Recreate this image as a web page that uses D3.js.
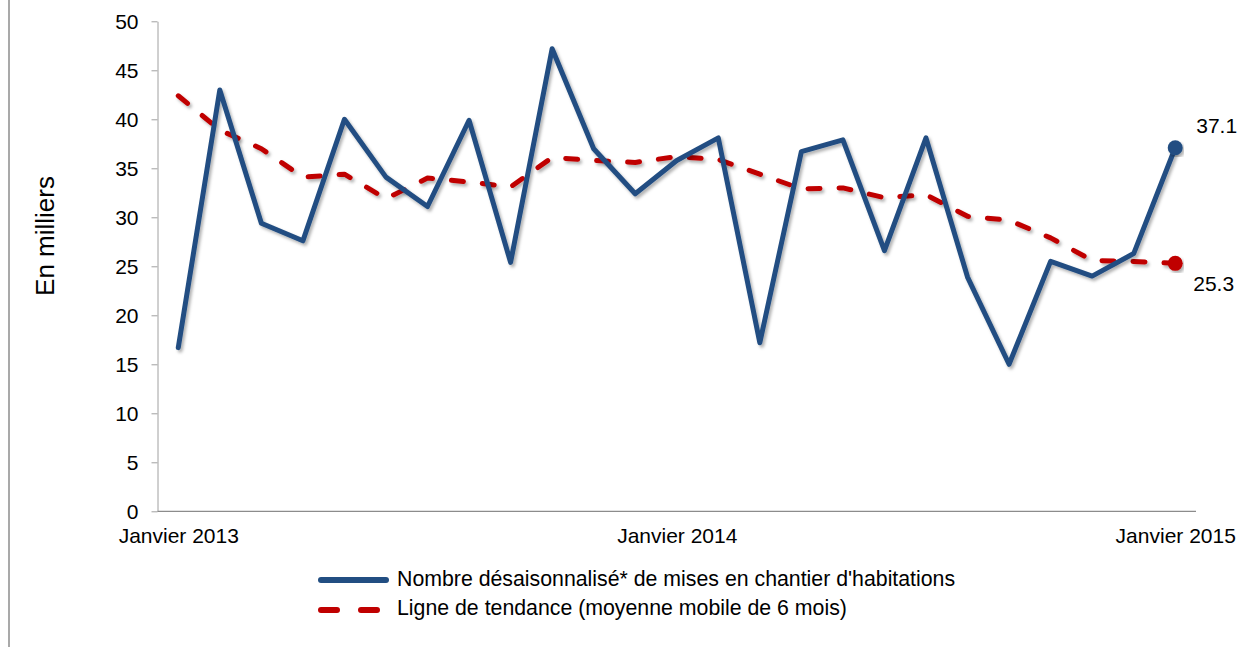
<!DOCTYPE html>
<html>
<head>
<meta charset="utf-8">
<script src="https://cdn.jsdelivr.net/npm/d3@7"></script>
<style>
  html, body { margin: 0; padding: 0; background: #fff; }
  svg { display: block; font-family: "Liberation Sans", Arial, sans-serif; }
</style>
</head>
<body>
<svg id="chart" width="1250" height="647"></svg>
<script>
// ---- Data ----
const months = [
  "Janvier 2013","Février 2013","Mars 2013","Avril 2013","Mai 2013","Juin 2013",
  "Juillet 2013","Août 2013","Septembre 2013","Octobre 2013","Novembre 2013","Décembre 2013",
  "Janvier 2014","Février 2014","Mars 2014","Avril 2014","Mai 2014","Juin 2014",
  "Juillet 2014","Août 2014","Septembre 2014","Octobre 2014","Novembre 2014","Décembre 2014",
  "Janvier 2015"
];
const starts = [
  16.7, 43.0, 29.4, 27.6, 40.0, 34.1, 31.1, 39.9, 25.4, 47.2, 37.0, 32.4,
  35.8, 38.1, 17.2, 36.7, 37.9, 26.6, 38.1, 23.9, 15.0, 25.5, 24.0, 26.3, 37.1
];
const trend = [
  42.4, 38.9, 37.0, 34.1, 34.4, 31.9, 34.0, 33.6, 33.1, 36.1, 35.8, 35.6,
  36.2, 35.9, 34.4, 32.9, 33.0, 32.0, 32.3, 30.1, 29.7, 27.9, 25.6, 25.5, 25.3
];
const yTicks = [0, 5, 10, 15, 20, 25, 30, 35, 40, 45, 50];
const xTickLabels = ["Janvier 2013", "Janvier 2014", "Janvier 2015"];
const seriesNames = [
  "Nombre désaisonnalisé* de mises en chantier d'habitations",
  "Ligne de tendance (moyenne mobile de 6 mois)"
];
const yTitle = "En milliers";

// ---- Layout ----
const svg = d3.select("#chart");
const plot = { left: 157.5, right: 1196, top: 21.3, bottom: 511.3 };
const BLUE = "#224E82", RED = "#C00000";

const defs = svg.append("defs");
const f = defs.append("filter").attr("id", "shadow")
  .attr("x", "-5%").attr("y", "-5%").attr("width", "110%").attr("height", "115%");
f.append("feDropShadow").attr("dx", 2).attr("dy", 2.5).attr("stdDeviation", 1.5)
  .attr("flood-color", "#000").attr("flood-opacity", 0.3);

// frame line on the left
svg.append("line").attr("x1", 9).attr("x2", 9).attr("y1", 0).attr("y2", 647)
  .attr("stroke", "#8c8c8c").attr("stroke-width", 1.5);

const x = d3.scalePoint().domain(months).range([plot.left, plot.right]).padding(0.5);
const y = d3.scaleLinear().domain([0, 50]).range([plot.bottom, plot.top]);

// Y axis
const yAxis = svg.append("g").attr("transform", `translate(${plot.left},0)`)
  .call(d3.axisLeft(y).tickValues(yTicks).tickSize(6).tickSizeOuter(0).tickPadding(13));
yAxis.select(".domain").attr("stroke", "#a0a0a0").attr("stroke-width", 1);
yAxis.selectAll(".tick line").attr("stroke", "#a0a0a0");
yAxis.selectAll(".tick text").attr("font-size", 21).attr("fill", "#000")
  .attr("font-family", "Liberation Sans, Arial, sans-serif");

// X axis
const xAxis = svg.append("g").attr("transform", `translate(0,${plot.bottom})`)
  .call(d3.axisBottom(x).tickValues(xTickLabels).tickSize(0).tickSizeOuter(0).tickPadding(17));
xAxis.select(".domain").attr("stroke", "#8c8c8c").attr("stroke-width", 1.2)
  .attr("d", `M${plot.left},0H${plot.right}`);
xAxis.selectAll(".tick text").attr("font-size", 21).attr("fill", "#000")
  .attr("font-family", "Liberation Sans, Arial, sans-serif");

// Y title
svg.append("text")
  .attr("transform", `translate(54,236) rotate(-90)`)
  .attr("text-anchor", "middle")
  .attr("font-size", 26).attr("fill", "#000")
  .text(yTitle);

// Lines
const line = d3.line().x((d, i) => x(months[i])).y(d => y(d));

svg.append("path").datum(trend)
  .attr("d", line).attr("fill", "none")
  .attr("stroke", RED).attr("stroke-width", 5)
  .attr("stroke-dasharray", "12 19").attr("stroke-linecap", "round")
  .attr("stroke-linejoin", "round")
  .attr("filter", "url(#shadow)");

svg.append("path").datum(starts)
  .attr("d", line).attr("fill", "none")
  .attr("stroke", BLUE).attr("stroke-width", 5)
  .attr("stroke-linejoin", "round").attr("stroke-linecap", "round")
  .attr("filter", "url(#shadow)");

// End markers
const last = months.length - 1;
svg.append("circle").attr("cx", x(months[last])).attr("cy", y(starts[last])).attr("r", 7.5)
  .attr("fill", BLUE).attr("filter", "url(#shadow)");
svg.append("circle").attr("cx", x(months[last])).attr("cy", y(trend[last])).attr("r", 7.5)
  .attr("fill", RED).attr("filter", "url(#shadow)");

// End labels
svg.append("text").attr("x", x(months[last]) + 21).attr("y", y(starts[last]) - 20)
  .attr("dominant-baseline", "middle").attr("font-size", 21).attr("fill", "#000")
  .text(starts[last].toFixed(1));
svg.append("text").attr("x", x(months[last]) + 18).attr("y", y(trend[last]) + 22)
  .attr("dominant-baseline", "middle").attr("font-size", 21).attr("fill", "#000")
  .text(trend[last].toFixed(1));

// Legend
const lg = svg.append("g");
lg.append("line").attr("x1", 321).attr("x2", 386).attr("y1", 580).attr("y2", 580)
  .attr("stroke", BLUE).attr("stroke-width", 6).attr("stroke-linecap", "round");
lg.append("text").attr("x", 397).attr("y", 580).attr("dominant-baseline", "middle")
  .attr("font-size", 21.3).attr("fill", "#000").text(seriesNames[0]);
lg.append("line").attr("x1", 321).attr("x2", 378).attr("y1", 610).attr("y2", 610)
  .attr("stroke", RED).attr("stroke-width", 6).attr("stroke-linecap", "round")
  .attr("stroke-dasharray", "16 24");
lg.append("text").attr("x", 397).attr("y", 609).attr("dominant-baseline", "middle")
  .attr("font-size", 21.3).attr("fill", "#000").text(seriesNames[1]);
</script>
</body>
</html>
